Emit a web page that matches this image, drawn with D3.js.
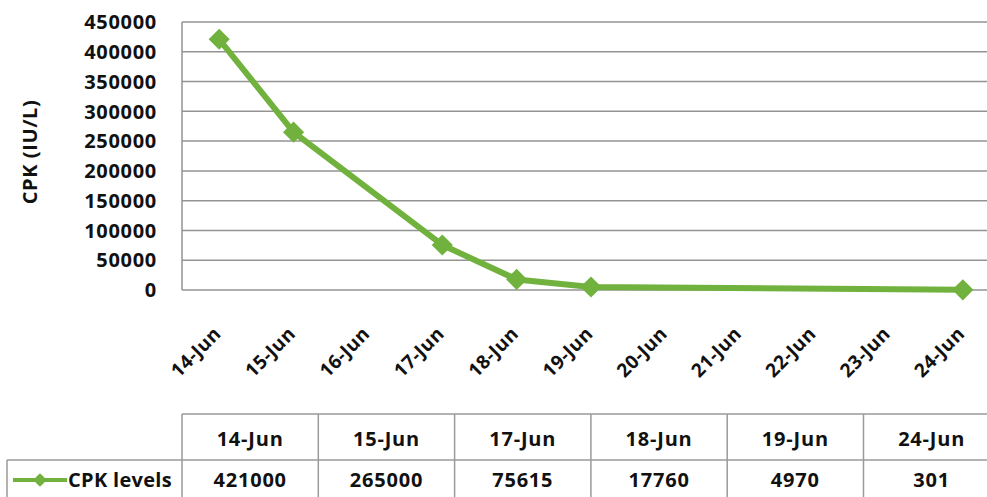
<!DOCTYPE html>
<html>
<head>
<meta charset="utf-8">
<script src="https://cdn.jsdelivr.net/npm/d3@7"></script>
<style>
  body { margin: 0; background: #fff; }
  svg { font-family: "Open Sans", "DejaVu Sans", sans-serif; font-weight: bold; }
</style>
</head>
<body>
<svg id="chart"></svg>
<script>
const width = 987,
    height = 497;

// axis categories (every day shown on the x axis)
const axisDays = ["14-Jun", "15-Jun", "16-Jun", "17-Jun", "18-Jun", "19-Jun", "20-Jun", "21-Jun", "22-Jun", "23-Jun", "24-Jun"];
// measured days and values
const days = ["14-Jun", "15-Jun", "17-Jun", "18-Jun", "19-Jun", "24-Jun"];
const cpk = [421000, 265000, 75615, 17760, 4970, 301];
const yTicks = [0, 50000, 100000, 150000, 200000, 250000, 300000, 350000, 400000, 450000];
const seriesName = "CPK levels";

const green = "#70b23d";
const gridColor = "#939393";
const ink = "#111";

const plotLeft = 182, plotTop = 22, plotBottom = 290, plotRight = 1000;

const svg = d3.select("svg#chart")
    .attr("width", width)
    .attr("height", height);

const x = d3.scaleBand()
    .domain(axisDays)
    .range([plotLeft, plotRight]);
const y = d3.scaleLinear()
    .domain([0, 450000])
    .range([plotBottom, plotTop]);

// gridlines
const grid = svg.append("g");
grid.selectAll("line")
    .data(yTicks)
    .enter()
    .append("line")
    .attr("x1", plotLeft)
    .attr("x2", plotRight)
    .attr("y1", d => y(d))
    .attr("y2", d => y(d))
    .attr("stroke", gridColor)
    .attr("stroke-width", 1.5);
grid.append("line")
    .attr("x1", plotLeft).attr("x2", plotLeft)
    .attr("y1", plotTop).attr("y2", plotBottom)
    .attr("stroke", gridColor)
    .attr("stroke-width", 1.5);

// y axis labels
svg.append("g")
    .selectAll("text")
    .data(yTicks)
    .enter()
    .append("text")
    .attr("x", 157)
    .attr("y", d => y(d))
    .attr("dy", "0.36em")
    .attr("text-anchor", "end")
    .attr("font-size", 20)
    .attr("letter-spacing", 0.7)
    .attr("fill", ink)
    .text(d => d);

svg.append("text")
    .attr("transform", `translate(37,${152}) rotate(-90)`)
    .attr("text-anchor", "middle")
    .attr("font-size", 20)
    .attr("letter-spacing", 0.6)
    .attr("fill", ink)
    .text("CPK (IU/L)");

// x axis labels
svg.append("g")
    .selectAll("text")
    .data(axisDays)
    .enter()
    .append("text")
    .attr("transform", d => `translate(${x(d) + x.bandwidth() / 2 + 3},${335}) rotate(-45)`)
    .attr("text-anchor", "end")
    .attr("font-size", 19)
    .attr("letter-spacing", 0.4)
    .attr("fill", ink)
    .text(d => d);

// line + markers
const pts = days.map((d, i) => ({ day: d, v: cpk[i] }));
const cx = d => x(d.day) + x.bandwidth() / 2;
const line = d3.line()
    .x(cx)
    .y(d => y(d.v));
svg.append("path")
    .datum(pts)
    .attr("d", line)
    .attr("fill", "none")
    .attr("stroke", green)
    .attr("stroke-width", 6)
    .attr("stroke-linejoin", "round");

const diamond = d3.symbol().type(d3.symbolDiamond2).size(285);
svg.append("g")
    .selectAll("path")
    .data(pts)
    .enter()
    .append("path")
    .attr("transform", d => `translate(${cx(d)},${y(d.v)})`)
    .attr("d", diamond)
    .attr("fill", green);

// data table
const tTop = 414, tMid = 460, tBot = 505;
const colW = 136.3;
const cols = d3.scaleBand()
    .domain(days)
    .range([plotLeft, plotLeft + colW * days.length]);
const table = svg.append("g")
    .attr("stroke", "#9a9a9a")
    .attr("stroke-width", 1.5);
table.append("line").attr("x1", plotLeft).attr("x2", plotRight).attr("y1", tTop).attr("y2", tTop);
table.append("line").attr("x1", 7).attr("x2", plotRight).attr("y1", tMid).attr("y2", tMid);
table.append("line").attr("x1", 7).attr("x2", 7).attr("y1", tMid).attr("y2", tBot);
table.selectAll("line.col")
    .data(days)
    .enter()
    .append("line")
    .attr("x1", d => cols(d)).attr("x2", d => cols(d))
    .attr("y1", tTop).attr("y2", tBot);

svg.append("g")
    .selectAll("text")
    .data(days)
    .enter()
    .append("text")
    .attr("x", d => cols(d) + cols.bandwidth() / 2)
    .attr("y", 439)
    .attr("dy", "0.36em")
    .attr("text-anchor", "middle")
    .attr("font-size", 20)
    .attr("letter-spacing", 0.8)
    .attr("fill", ink)
    .text(d => d);

svg.append("g")
    .selectAll("text")
    .data(pts)
    .enter()
    .append("text")
    .attr("x", d => cols(d.day) + cols.bandwidth() / 2)
    .attr("y", 480)
    .attr("dy", "0.36em")
    .attr("text-anchor", "middle")
    .attr("font-size", 20)
    .attr("letter-spacing", 0.8)
    .attr("fill", ink)
    .text(d => d.v);

// legend key
svg.append("line")
    .attr("x1", 13).attr("x2", 67)
    .attr("y1", 480).attr("y2", 480)
    .attr("stroke", green)
    .attr("stroke-width", 4);
svg.append("path")
    .attr("transform", "translate(40,480)")
    .attr("d", d3.symbol().type(d3.symbolDiamond2).size(120))
    .attr("fill", green);
svg.append("text")
    .attr("x", 68)
    .attr("y", 480)
    .attr("dy", "0.36em")
    .attr("font-size", 20)
    .attr("letter-spacing", 0.3)
    .attr("fill", ink)
    .text(seriesName);
</script>
</body>
</html>
